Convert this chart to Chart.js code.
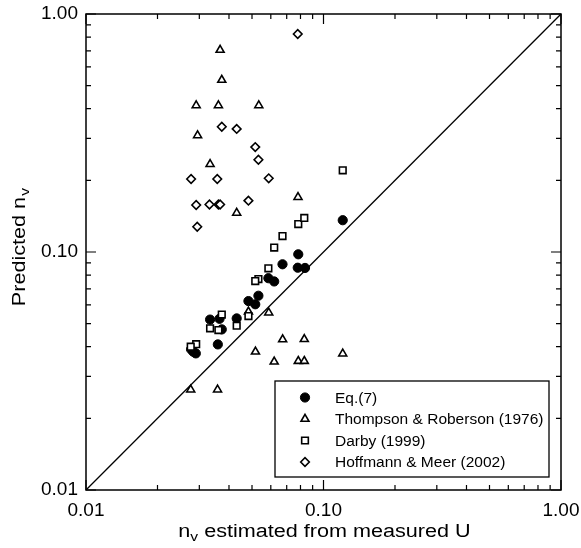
<!DOCTYPE html>
<html>
<head>
<meta charset="utf-8">
<script src="https://cdn.jsdelivr.net/npm/chart.js@4.4.1/dist/chart.umd.min.js"></script>
<style>
  body { margin: 0; background: #fff; }
  #wrap { width: 581px; height: 548px; }
</style>
</head>
<body>
<div id="wrap"><canvas id="nvChart" width="581" height="548"></canvas></div>
<script>
const FONT = '"Liberation Sans", Arial, Helvetica, sans-serif';

// Eq.(7)
const eqX = [0.1205, 0.0783, 0.0672, 0.0779, 0.0836, 0.0586, 0.0620, 0.0532, 0.0483, 0.0516, 0.0431, 0.0333, 0.0365, 0.0373, 0.0359, 0.0277, 0.0283, 0.0290];
const eqY = [0.136, 0.0978, 0.0888, 0.0859, 0.0857, 0.0776, 0.0752, 0.0655, 0.0622, 0.0603, 0.0526, 0.0520, 0.0524, 0.0473, 0.0409, 0.0390, 0.0381, 0.0375];

// Thompson & Roberson (1976)
const trX = [0.0367, 0.0373, 0.0291, 0.0361, 0.0534, 0.0295, 0.0333, 0.0431, 0.0781, 0.0483, 0.0588, 0.0673, 0.0830, 0.0517, 0.0620, 0.0783, 0.0830, 0.1205, 0.0276, 0.0358];
const trY = [0.706, 0.528, 0.413, 0.413, 0.413, 0.309, 0.234, 0.146, 0.170, 0.0561, 0.0556, 0.0429, 0.0430, 0.0381, 0.0346, 0.0348, 0.0348, 0.0374, 0.0264, 0.0264];

// Darby (1999)
const daX = [0.1205, 0.0783, 0.0830, 0.0672, 0.0620, 0.0586, 0.0532, 0.0516, 0.0373, 0.0483, 0.0431, 0.0333, 0.0361, 0.0291, 0.0276];
const daY = [0.2205, 0.1311, 0.139, 0.1167, 0.1044, 0.0854, 0.0770, 0.0755, 0.0546, 0.0538, 0.0490, 0.0478, 0.0470, 0.0410, 0.0400];

// Hoffmann & Meer (2002)
const hmX = [0.0779, 0.0373, 0.0431, 0.0516, 0.0532, 0.0277, 0.0357, 0.0588, 0.0291, 0.0331, 0.0361, 0.0367, 0.0483, 0.0294];
const hmY = [0.824, 0.336, 0.329, 0.276, 0.244, 0.2026, 0.2026, 0.204, 0.1575, 0.1583, 0.1583, 0.1583, 0.1643, 0.1277];

// 1:1 line
const lineX = [0.01, 1];
const lineY = [0.01, 1];

const seriesNames = ["Eq.(7)", "Thompson & Roberson (1976)", "Darby (1999)", "Hoffmann & Meer (2002)"];
const tickValues = [0.01, 0.02, 0.03, 0.04, 0.05, 0.06, 0.07, 0.08, 0.09,
                    0.1, 0.2, 0.3, 0.4, 0.5, 0.6, 0.7, 0.8, 0.9, 1];
const majorTicks = [0.01, 0.1, 1];

const zip = (xs, ys) => xs.map((x, i) => ({ x: x, y: ys[i] }));
const isMajor = (v) => majorTicks.some((m) => Math.abs(m - v) < 1e-9);

// markers used both in the plot and in the legend box
const markers = [
  { pointStyle: "circle", radius: 4.6, bg: "#000", width: 1 },
  { pointStyle: "triangle", radius: 4.6, bg: "#fff", width: 1.6 },
  { pointStyle: "rect", radius: 4.7, bg: "#fff", width: 1.6 },
  { pointStyle: "rectRot", radius: 4.3, bg: "#fff", width: 1.6 },
];

const pointSet = (label, data, m, order) => ({
  label: label,
  data: data,
  pointStyle: m.pointStyle,
  pointRadius: m.radius,
  pointBackgroundColor: m.bg,
  pointBorderColor: "#000",
  pointBorderWidth: m.width,
  order: order,
});

const decorPlugin = {
  id: "decor",
  afterDraw(chart) {
    const { ctx, chartArea: a, scales } = chart;
    const xs = scales.x, ys = scales.y;
    ctx.save();

    // frame
    ctx.strokeStyle = "#000";
    ctx.lineWidth = 1.5;
    ctx.strokeRect(a.left, a.top, a.right - a.left, a.bottom - a.top);

    // inside tick marks on all four sides
    ctx.lineWidth = 1.2;
    ctx.beginPath();
    tickValues.forEach((v) => {
      const len = isMajor(v) ? 10 : 5;
      const px = xs.getPixelForValue(v);
      ctx.moveTo(px, a.bottom); ctx.lineTo(px, a.bottom - len);
      ctx.moveTo(px, a.top); ctx.lineTo(px, a.top + len);
      const py = ys.getPixelForValue(v);
      ctx.moveTo(a.left, py); ctx.lineTo(a.left + len, py);
      ctx.moveTo(a.right, py); ctx.lineTo(a.right - len, py);
    });
    ctx.stroke();

    // axis titles with subscript v, stretched a little like the original
    const sx = 1.2;
    ctx.fillStyle = "#000";
    ctx.textBaseline = "alphabetic";
    ctx.textAlign = "left";

    // x title: "n_v estimated from measured U"
    ctx.font = "18px " + FONT;
    const nW = ctx.measureText("n").width;
    const restW = ctx.measureText(" estimated from measured U").width;
    ctx.font = "13px " + FONT;
    const vW = ctx.measureText("v").width;
    const xTotal = (nW + vW + restW) * sx;
    const cx = (a.left + a.right) / 2 + 1;
    ctx.save();
    ctx.translate(cx - xTotal / 2, 537);
    ctx.scale(sx, 1);
    ctx.font = "18px " + FONT;
    ctx.fillText("n", 0, 0);
    ctx.font = "13px " + FONT;
    ctx.fillText("v", nW, 4);
    ctx.font = "18px " + FONT;
    ctx.fillText(" estimated from measured U", nW + vW, 0);
    ctx.restore();

    // y title: "Predicted n_v"
    ctx.font = "18px " + FONT;
    const pW = ctx.measureText("Predicted n").width;
    const yTotal = (pW + vW + 1) * sx;
    const cy = (a.top + a.bottom) / 2 - 5;
    ctx.save();
    ctx.translate(25, cy + yTotal / 2);
    ctx.rotate(-Math.PI / 2);
    ctx.scale(sx, 1);
    ctx.fillText("Predicted n", 0, 0);
    ctx.font = "13px " + FONT;
    ctx.fillText("v", pW + 1, 4);
    ctx.restore();

    // legend box
    const bw = 274, bh = 96;
    const bx = a.right - 12 - bw, by = a.bottom - 13 - bh;
    ctx.fillStyle = "#fff";
    ctx.fillRect(bx, by, bw, bh);
    ctx.strokeStyle = "#000";
    ctx.lineWidth = 1.3;
    ctx.strokeRect(bx, by, bw, bh);
    ctx.font = "15.5px " + FONT;
    ctx.textBaseline = "middle";
    seriesNames.forEach((name, i) => {
      const ry = by + 16.5 + i * 21.5;
      const mk = markers[i];
      ctx.fillStyle = mk.bg;
      ctx.strokeStyle = "#000";
      ctx.lineWidth = mk.width;
      Chart.helpers.drawPoint(ctx, { pointStyle: mk.pointStyle, radius: mk.radius, rotation: 0, borderWidth: mk.width }, bx + 30, ry);
      ctx.fillStyle = "#000";
      ctx.fillText(name, bx + 60, ry + 1);
    });

    ctx.restore();
  },
};

const axisCfg = (fitKey, fitSize, pad) => ({
  type: "logarithmic",
  min: 0.01,
  max: 1,
  grid: { display: false, drawTicks: false },
  border: { display: false },
  afterBuildTicks: (scale) => {
    scale.ticks = tickValues.map((v) => ({ value: v }));
  },
  afterFit: (scale) => {
    scale[fitKey] = fitSize;
    // labels may hang over the plot edges, the frame stays put
    scale.paddingLeft = 0;
    scale.paddingRight = 0;
    scale.paddingTop = 0;
    scale.paddingBottom = 0;
  },
  ticks: {
    autoSkip: false,
    maxRotation: 0,
    padding: pad,
    color: "#000",
    font: { family: FONT, size: 19 },
    callback: (value) => (isMajor(value) ? Number(value).toFixed(2) : ""),
  },
});

new Chart(document.getElementById("nvChart"), {
  type: "scatter",
  data: {
    datasets: [
      pointSet(seriesNames[0], zip(eqX, eqY), markers[0], 4),
      pointSet(seriesNames[1], zip(trX, trY), markers[1], 3),
      pointSet(seriesNames[2], zip(daX, daY), markers[2], 2),
      pointSet(seriesNames[3], zip(hmX, hmY), markers[3], 1),
      {
        label: "1:1",
        data: zip(lineX, lineY),
        showLine: true,
        borderColor: "#000",
        borderWidth: 1.3,
        pointRadius: 0,
        order: 5,
      },
    ],
  },
  options: {
    responsive: false,
    animation: false,
    devicePixelRatio: 1,
    layout: { autoPadding: false, padding: { top: 14, right: 20, left: 0, bottom: 0 } },
    plugins: { legend: { display: false }, tooltip: { enabled: false } },
    scales: {
      x: axisCfg("height", 58, 9),
      y: axisCfg("width", 86, 8),
    },
  },
  plugins: [decorPlugin],
});
</script>
</body>
</html>
